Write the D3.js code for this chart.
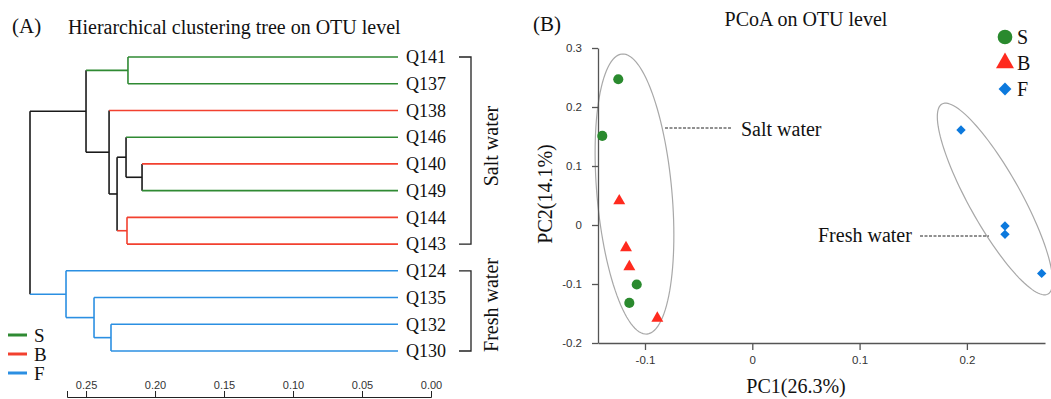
<!DOCTYPE html>
<html>
<head>
<meta charset="utf-8">
<script src="https://cdn.jsdelivr.net/npm/d3@7"></script>
<style>
  body { margin: 0; background: #fff; }
  svg { display: block; }
  .serif { font-family: "Liberation Serif", "Times New Roman", serif; fill: #111; }
  .tick text { font-family: "Liberation Sans", Arial, sans-serif; fill: #333; }
</style>
</head>
<body>
<svg id="chart" width="1051" height="399"></svg>
<script>
// ---------- (A) hierarchical clustering ----------
const leafNames = ['Q141', 'Q137', 'Q138', 'Q146', 'Q140', 'Q149', 'Q144', 'Q143', 'Q124', 'Q135', 'Q132', 'Q130'];
const leafGroups = ['S', 'S', 'B', 'S', 'B', 'S', 'B', 'B', 'F', 'F', 'F', 'F'];
// [node, left child, right child, height]
const merges = [
    ['n1', 'Q141', 'Q137', 0.1957],
    ['n2', 'Q140', 'Q149', 0.1855],
    ['n3', 'Q146', 'n2', 0.1971],
    ['n4', 'Q144', 'Q143', 0.1964],
    ['n5', 'n3', 'n4', 0.2036],
    ['n6', 'Q138', 'n5', 0.2094],
    ['n7', 'n1', 'n6', 0.2261],
    ['n8', 'Q132', 'Q130', 0.2080],
    ['n9', 'Q135', 'n8', 0.2203],
    ['n10', 'Q124', 'n9', 0.2406],
    ['root', 'n7', 'n10', 0.2667]
];
const axisTicksA = [0.25, 0.20, 0.15, 0.10, 0.05, 0.00];
const groupNames = ['S', 'B', 'F'];
const treeColors = { S: '#2f8a33', B: '#f2402f', F: '#2b8fe2' };

// ---------- (B) PCoA ----------
const sPC1 = [-0.1249, -0.1398, -0.1077, -0.1146];
const sPC2 = [0.247, 0.151, -0.1008, -0.132];
const bPC1 = [-0.1240, -0.1177, -0.1146, -0.0885];
const bPC2 = [0.041, -0.0385, -0.0707, -0.158];
const fPC1 = [0.1945, 0.2355, 0.2355, 0.2697];
const fPC2 = [0.161, -0.0017, -0.0158, -0.082];
const pc1Ticks = [-0.1, 0, 0.1, 0.2];
const pc2Ticks = [-0.2, -0.1, 0, 0.1, 0.2, 0.3];
// ellipse centre and its two conjugate half axes, in PC units
const ellipseCentres = [[-0.1098, 0.0525], [0.2262, 0.0441]];
const ellipseMajor = [[-0.01165, 0.2373], [-0.0494, 0.161]];
const ellipseMinor = [[0.0348, 0.00564], [0.0212, 0.0215]];
const pointColors = { S: '#2a8a2e', B: '#ff2a1e', F: '#0c79dd' };

const svg = d3.select('#chart');

// ================= panel A =================
const rows = [{ id: 'root', parent: '' }];
merges.forEach(m => {
    rows.push({ id: m[1], parent: m[0] });
    rows.push({ id: m[2], parent: m[0] });
});
const heightOf = new Map(merges.map(m => [m[0], m[3]]));
const root = d3.stratify().id(d => d.id).parentId(d => d.parent || null)(rows);

const treeX = d3.scaleLinear().domain([0, 0.2667]).range([398, 30]);
const leafY = d3.scalePoint().domain(leafNames).range([57, 351]);
const groupOf = new Map(leafNames.map((n, i) => [n, leafGroups[i]]));

root.eachAfter(node => {
    if (node.children) {
        node.py = d3.mean(node.children, c => c.py);
        node.px = treeX(heightOf.get(node.id));
        const groups = new Set(node.children.map(c => c.grp));
        node.grp = groups.size === 1 ? [...groups][0] : 'mixed';
    } else {
        node.py = leafY(node.id);
        node.px = treeX(0);
        node.grp = groupOf.get(node.id);
    }
});
const colorOf = node => node.grp === 'mixed' ? '#1a1a1a' : treeColors[node.grp];

const treeG = svg.append('g').attr('fill', 'none').attr('stroke-width', 1.6);
root.descendants().forEach(node => {
    if (node.children) {
        treeG.append('line')
            .attr('x1', node.px).attr('x2', node.px)
            .attr('y1', node.children[0].py).attr('y2', node.children[1].py)
            .attr('stroke', colorOf(node));
    }
    if (node.parent) {
        treeG.append('line')
            .attr('x1', node.parent.px).attr('x2', node.px)
            .attr('y1', node.py).attr('y2', node.py)
            .attr('stroke', colorOf(node));
    }
});

svg.append('g').selectAll('text')
    .data(root.leaves()).enter()
    .append('text')
    .attr('class', 'serif')
    .attr('x', 406).attr('y', d => d.py)
    .attr('dy', '0.35em')
    .style('font-size', '18px')
    .text(d => d.id);

// brackets
const bracket = (y1, y2, label, cy) => {
    svg.append('path')
        .attr('d', `M459,${y1}H471V${y2}H459`)
        .attr('fill', 'none').attr('stroke', '#222').attr('stroke-width', 1.3);
    svg.append('text')
        .attr('class', 'serif')
        .attr('transform', `translate(498,${cy}) rotate(-90)`)
        .attr('text-anchor', 'middle')
        .style('font-size', '20px')
        .text(label);
};
bracket(leafY('Q141'), leafY('Q143'), 'Salt water', 146);
bracket(leafY('Q124'), leafY('Q130'), 'Fresh water', 305);

// legend
const legA = svg.append('g').selectAll('g')
    .data(groupNames).enter()
    .append('g')
    .attr('transform', (d, i) => `translate(8,${335 + i * 19})`);
legA.append('line').attr('x1', 0).attr('x2', 19)
    .attr('stroke', d => treeColors[d]).attr('stroke-width', 3);
legA.append('text').attr('class', 'serif')
    .attr('x', 26).attr('dy', '0.35em')
    .style('font-size', '19px')
    .text(d => d);

// axis
const axisX = d3.scaleLinear().domain([0.2638, 0]).range([67, 431]);
svg.append('g')
    .attr('transform', 'translate(0,397)')
    .call(d3.axisTop(axisX).tickValues(axisTicksA).tickFormat(d3.format('.2f'))
        .tickSize(6).tickPadding(2))
    .call(g => g.selectAll('text').style('font-size', '11px'))
    .call(g => g.selectAll('path, line').attr('stroke', '#222'));

svg.append('text').attr('class', 'serif').attr('x', 12).attr('y', 33)
    .style('font-size', '21px').text('(A)');
svg.append('text').attr('class', 'serif').attr('x', 68).attr('y', 34)
    .style('font-size', '20px').text('Hierarchical clustering tree on OTU level');

// ================= panel B =================
const x = d3.scaleLinear().domain([-0.1438, 0.2728]).range([598, 1045]);
const y = d3.scaleLinear().domain([-0.2, 0.3]).range([343, 48]);

const ellipseLine = d3.line().x(d => x(d[0])).y(d => y(d[1]));
ellipseCentres.forEach((c, i) => {
    const pts = d3.range(0, 361, 3).map(a => {
        const t = a * Math.PI / 180;
        return [c[0] + Math.cos(t) * ellipseMajor[i][0] + Math.sin(t) * ellipseMinor[i][0],
                c[1] + Math.cos(t) * ellipseMajor[i][1] + Math.sin(t) * ellipseMinor[i][1]];
    });
    svg.append('path')
        .attr('d', ellipseLine(pts) + 'Z')
        .attr('fill', 'none').attr('stroke', '#a8a8a8').attr('stroke-width', 1.2);
});

svg.append('g')
    .attr('transform', 'translate(0,343)')
    .call(d3.axisBottom(x).tickValues(pc1Ticks).tickFormat(d => d === 0 ? '0' : d.toFixed(1))
        .tickSize(7).tickSizeOuter(0).tickPadding(6))
    .call(g => g.selectAll('text').style('font-size', '11.5px'))
    .call(g => g.selectAll('path, line').attr('stroke', '#555').attr('stroke-width', 1.3));

svg.append('g')
    .attr('transform', 'translate(598,0)')
    .call(d3.axisLeft(y).tickValues(pc2Ticks).tickFormat(d => d === 0 ? '0' : d.toFixed(1))
        .tickSize(6).tickSizeOuter(0).tickPadding(10))
    .call(g => g.selectAll('text').style('font-size', '11.5px'))
    .call(g => g.selectAll('path, line').attr('stroke', '#555').attr('stroke-width', 1.3));

const diamond = d3.symbolDiamond2 || d3.symbolDiamond;
const shapes = { S: d3.symbolCircle, B: d3.symbolTriangle, F: diamond };
const sizes = { S: 80, B: 62, F: 56 };
const legendSizes = { S: 170, B: 140, F: 105 };
const series = [
    { grp: 'S', xs: sPC1, ys: sPC2 },
    { grp: 'B', xs: bPC1, ys: bPC2 },
    { grp: 'F', xs: fPC1, ys: fPC2 }
];
series.forEach(s => {
    svg.append('g').selectAll('path')
        .data(s.xs.map((v, i) => [v, s.ys[i]])).enter()
        .append('path')
        .attr('transform', d => `translate(${x(d[0])},${y(d[1])})`)
        .attr('d', d3.symbol().type(shapes[s.grp]).size(sizes[s.grp]))
        .attr('fill', pointColors[s.grp]);
});

// annotations
svg.append('line').attr('x1', 665).attr('x2', 731).attr('y1', 128).attr('y2', 128)
    .attr('stroke', '#222').attr('stroke-dasharray', '3,1.5');
svg.append('text').attr('class', 'serif').attr('x', 741).attr('y', 136)
    .style('font-size', '20px').text('Salt water');
svg.append('line').attr('x1', 920).attr('x2', 989).attr('y1', 236).attr('y2', 236)
    .attr('stroke', '#222').attr('stroke-dasharray', '3,1.5');
svg.append('text').attr('class', 'serif').attr('x', 818).attr('y', 242)
    .style('font-size', '20px').text('Fresh water');

// legend
const legB = svg.append('g').selectAll('g')
    .data(groupNames).enter()
    .append('g')
    .attr('transform', (d, i) => `translate(1005,${37 + i * 26})`);
legB.append('path')
    .attr('d', d => d3.symbol().type(shapes[d]).size(legendSizes[d])())
    .attr('fill', d => pointColors[d]);
legB.append('text').attr('class', 'serif')
    .attr('x', 12).attr('dy', '0.35em')
    .style('font-size', '20px')
    .text(d => d);

svg.append('text').attr('class', 'serif').attr('x', 533).attr('y', 31)
    .style('font-size', '21px').text('(B)');
svg.append('text').attr('class', 'serif').attr('x', 806).attr('y', 26)
    .attr('text-anchor', 'middle')
    .style('font-size', '20px').text('PCoA on OTU level');
svg.append('text').attr('class', 'serif').attr('x', 796).attr('y', 393)
    .attr('text-anchor', 'middle')
    .style('font-size', '20px').text('PC1(26.3%)');
svg.append('text').attr('class', 'serif')
    .attr('transform', 'translate(552,194) rotate(-90)')
    .attr('text-anchor', 'middle')
    .style('font-size', '20px').text('PC2(14.1%)');
</script>
</body>
</html>
